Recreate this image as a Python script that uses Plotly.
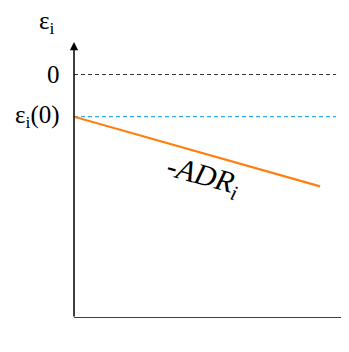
import plotly.graph_objects as go

# sketch values (arbitrary units)
t_adr = [0.0, 8.95]
eps_adr = [-1.0, -2.65]
ref_t = [0.0, 9.53]
zero_level = [0.0, 0.0]
eps0_level = [-1.0, -1.0]

x_range = [0.0, 10.0]
y_range = [-5.77, 0.77]

FONT = "Liberation Serif"

fig = go.Figure()

fig.add_trace(go.Scatter(
    x=ref_t, y=zero_level, mode="lines",
    line=dict(color="#333333", width=1.2, dash="4px,3px"),
    showlegend=False, hoverinfo="skip"
))
fig.add_trace(go.Scatter(
    x=ref_t, y=eps0_level, mode="lines",
    line=dict(color="#33aaee", width=1.2, dash="4px,3px"),
    showlegend=False, hoverinfo="skip"
))
fig.add_trace(go.Scatter(
    x=t_adr, y=eps_adr, mode="lines",
    line=dict(color="#ff7f0e", width=2.2),
    showlegend=False, hoverinfo="skip"
))

# vertical axis with arrow
fig.add_annotation(
    x=0, y=y_range[1], ax=0, ay=y_range[0],
    xref="x", yref="y", axref="x", ayref="y",
    showarrow=True, arrowhead=2, arrowsize=1.1, arrowwidth=1.5, arrowcolor="black", text=""
)
# horizontal axis runs off the right edge, arrowhead mostly cut
y0 = y_range[0]
fig.add_shape(type="line", xref="paper", yref="y", x0=0, x1=0.995, y0=y0, y1=y0,
              line=dict(color="black", width=1.5))
fig.add_shape(type="path", xref="paper", yref="y",
              path=f"M 0.993 {y0 + 0.1} L 1.03 {y0} L 0.993 {y0 - 0.1} Z",
              fillcolor="black", line=dict(color="black", width=1))

# labels left of the vertical axis
fig.add_annotation(
    x=-0.062, y=1.072, xref="paper", yref="paper", text="ε<sub>i</sub>", showarrow=False,
    xanchor="right", yanchor="middle", font=dict(family=FONT, size=25, color="black")
)
fig.add_annotation(
    x=-0.073, y=0.0, xref="paper", yref="y", text="0", showarrow=False,
    xanchor="center", yanchor="middle", font=dict(family=FONT, size=25, color="black")
)
fig.add_annotation(
    x=-0.045, y=-1.0, xref="paper", yref="y", text="ε<sub>i</sub>(0)", showarrow=False,
    xanchor="right", yanchor="middle", font=dict(family=FONT, size=25, color="black")
)

fig.add_annotation(
    x=4.70, y=-2.42, xref="x", yref="y", text="<i>-ADR<sub>i</sub></i>", showarrow=False,
    textangle=15.5, font=dict(family=FONT, size=30, color="black")
)
fig.add_annotation(
    x=0.985, y=-0.08, xref="paper", yref="paper", text="t", showarrow=False,
    xanchor="left", yanchor="middle", font=dict(family=FONT, size=18, color="black")
)

fig.update_layout(
    width=341, height=344,
    margin=dict(l=66, r=0, t=34, b=34),
    plot_bgcolor="white", paper_bgcolor="white",
    xaxis=dict(range=x_range, visible=False),
    yaxis=dict(range=y_range, visible=False),
)

fig.write_html("out.html")
